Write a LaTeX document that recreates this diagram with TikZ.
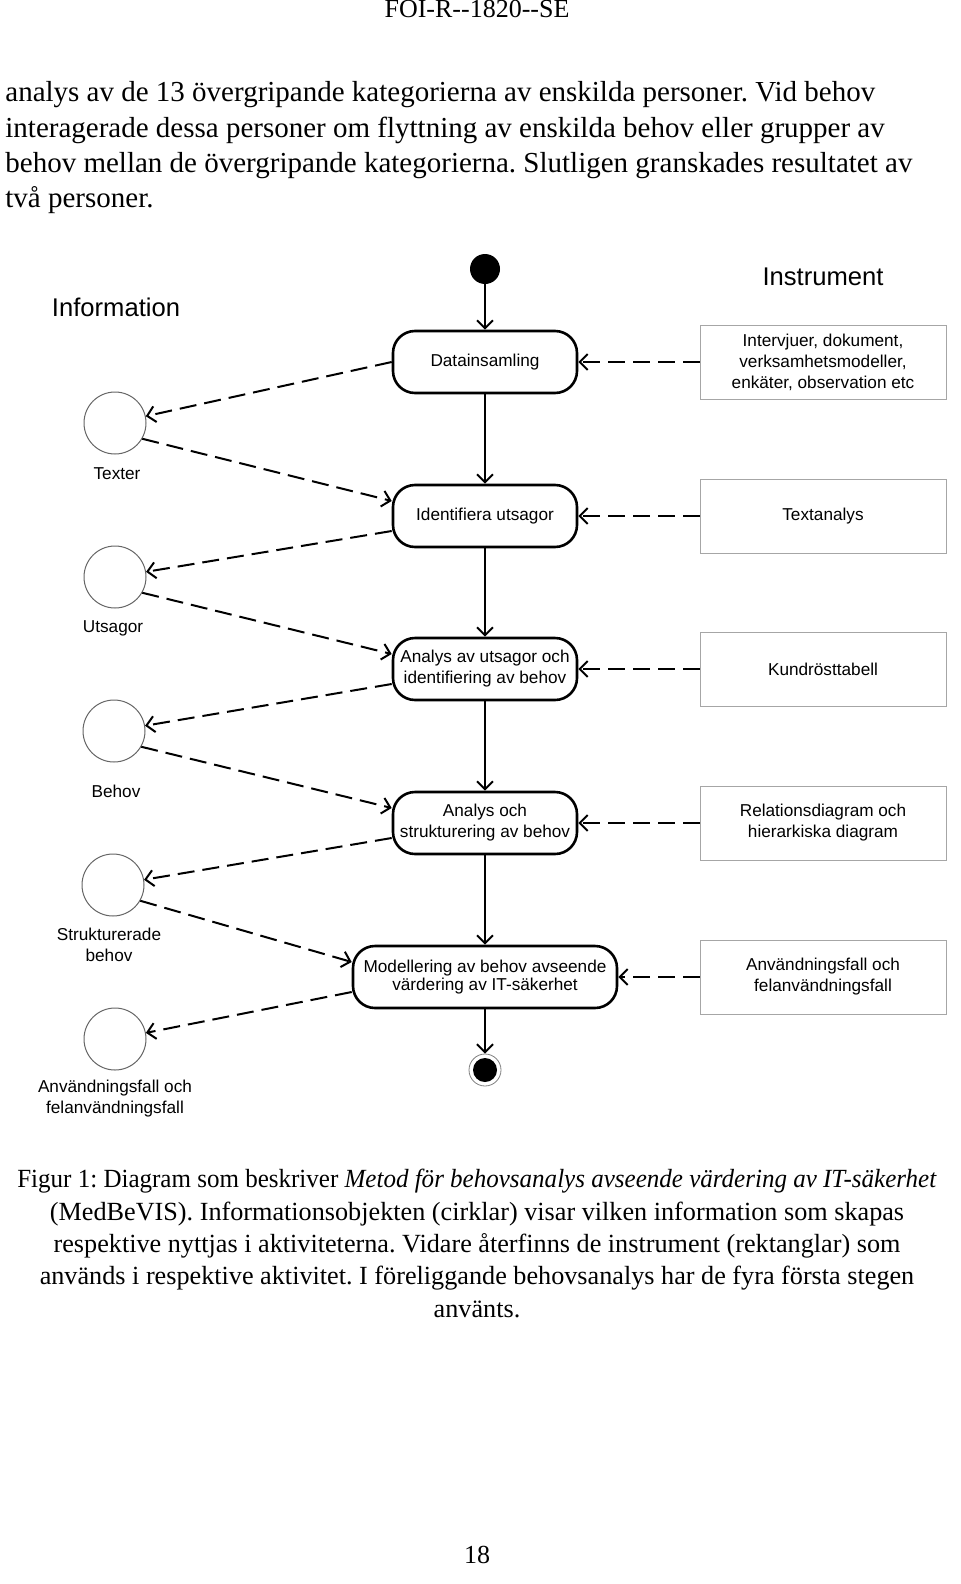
\documentclass[tikz,border=0pt]{standalone}
\usepackage{fontspec}
\setmainfont{Liberation Serif}
\newfontfamily\diafont{Liberation Sans}
\usetikzlibrary{arrows.meta,positioning}
\frenchspacing

\begin{document}
\begin{tikzpicture}[x=0.5pt,y=-0.5pt]

	\tikzstyle{myactivity}=[draw,line width=1.3pt,rounded corners=11pt,minimum width=92pt,minimum height=31pt,inner sep=1pt,align=center,font=\diafont\fontsize{8.6}{10.5}\selectfont]
	\tikzstyle{myinstr}=[draw=gray!70,line width=.5pt,minimum width=123pt,minimum height=37pt,inner sep=1pt,align=center,font=\diafont\fontsize{8.6}{10.5}\selectfont]
	\tikzstyle{myinfo}=[circle,draw=gray!80!black,line width=.5pt,minimum size=31pt,inner sep=0pt]
	\tikzstyle{mylabel}=[align=center,inner sep=0pt,font=\diafont\fontsize{8.6}{10.5}\selectfont]
	\tikzstyle{mytitle}=[inner sep=0pt,font=\diafont\fontsize{12.8}{15}\selectfont]
	\tikzstyle{mystart}=[circle,fill,inner sep=0pt,minimum size=15pt]
	\tikzstyle{myend}=[circle,draw=gray,line width=.4pt,inner sep=0pt,minimum size=16pt,path picture={\fill (path picture bounding box.center) circle (6pt);}]
	\tikzstyle{myflow}=[line width=1pt,-{Straight Barb[length=4pt,width=8pt]}]
	\tikzstyle{myuse}=[line width=1pt,dash pattern=on 8.5pt off 4pt,-{Straight Barb[length=4pt,width=8pt]}]
	\tikzstyle{mybody}=[anchor=base west,inner sep=0pt,font=\fontsize{14.5}{17}\selectfont]
	\tikzstyle{mycaption}=[anchor=base,inner sep=0pt,font=\fontsize{13.1}{16}\selectfont]

	\useasboundingbox (0,0) rectangle (960,1584);
	\fill[white] (0,0) rectangle (960,1584);

	% page text
	\node[anchor=base,inner sep=0pt,font=\fontsize{13}{15}\selectfont] (header) at (477,18) {FOI-R-{}-1820-{}-SE};
	\node[mybody] (body1) at (5,102) {analys av de 13 övergripande kategorierna av enskilda personer. Vid behov};
	\node[mybody] (body2) at (5,137) {interagerade dessa personer om flyttning av enskilda behov eller grupper av};
	\node[mybody] (body3) at (5,172) {behov mellan de övergripande kategorierna. Slutligen granskades resultatet av};
	\node[mybody] (body4) at (5,207) {två personer.};

	% columns
	\node[mytitle] (infotitle) at (116,307) {Information};
	\node[mytitle] (instrtitle) at (823,277) {Instrument};

	% activities
	\node[mystart] (start) at (485,269) {};
	\node[myactivity] (datains) at (485,362) {Datainsamling};
	\node[myactivity] (ident) at (485,516) {Identifiera utsagor};
	\node[myactivity] (anautsagor) at (485,669) {Analys av utsagor och\\identifiering av behov};
	\node[myactivity] (anastrukt) at (485,823) {Analys och\\strukturering av behov};
	\node[myactivity,minimum width=132pt] (modell) at (485,977) {Modellering av behov avseende\\[-1.5pt]värdering av IT-säkerhet};
	\node[myend] (end) at (485,1070) {};

	% instruments
	\node[myinstr] (instr1) at (823,362) {Intervjuer, dokument,\\verksamhetsmodeller,\\enkäter, observation etc};
	\node[myinstr] (instr2) at (823,516) {Textanalys};
	\node[myinstr] (instr3) at (823,669) {Kundrösttabell};
	\node[myinstr] (instr4) at (823,823) {Relationsdiagram och\\hierarkiska diagram};
	\node[myinstr] (instr5) at (823,977) {Användningsfall och\\felanvändningsfall};

	% information objects
	\node[myinfo] (info1) at (115,423) {};
	\node[myinfo] (info2) at (115,577) {};
	\node[myinfo] (info3) at (114,731) {};
	\node[myinfo] (info4) at (113,885) {};
	\node[myinfo] (info5) at (115,1039) {};
	\node[mylabel] (infolab1) at (117,474) {Texter};
	\node[mylabel] (infolab2) at (113,628) {Utsagor};
	\node[mylabel] (infolab3) at (116,791) {Behov};
	\node[mylabel] (infolab4) at (109,945) {Strukturerade\\behov};
	\node[mylabel] (infolab5) at (115,1099) {Användningsfall och\\felanvändningsfall};

	% control flow
	\foreach \a/\b in {start/datains,datains/ident,ident/anautsagor,anautsagor/anastrukt,anastrukt/modell,modell/end}
		{\draw[myflow] (\a) -- (\b);}
	% instruments used
	\foreach \i/\b in {1/datains,2/ident,3/anautsagor,4/anastrukt,5/modell}
		{\draw[myuse] (instr\i) -- (\b);}
	% information produced and used
	\draw[myuse] (datains.west) -- (info1);
	\foreach \a/\i in {ident/2,anautsagor/3,anastrukt/4,modell/5}
		{\draw[myuse] ([yshift=-7.5pt]\a.west) -- (info\i);}
	\foreach \i/\b in {1/ident,2/anautsagor,3/anastrukt,4/modell}
		{\draw[myuse] (info\i.-30) -- ([yshift=7.5pt]\b.west);}

	% caption
	\node[mycaption] (cap1) at (477,1187) {\scalebox{0.955}[1]{Figur 1: Diagram som beskriver \textit{Metod för behovsanalys avseende värdering av IT-säkerhet}}};
	\node[mycaption] (cap2) at (477,1220) {(MedBeVIS). Informationsobjekten (cirklar) visar vilken information som skapas};
	\node[mycaption] (cap3) at (477,1252) {respektive nyttjas i aktiviteterna. Vidare återfinns de instrument (rektanglar) som};
	\node[mycaption] (cap4) at (477,1284) {används i respektive aktivitet. I föreliggande behovsanalys har de fyra första stegen};
	\node[mycaption] (cap5) at (477,1317) {använts.};

	\node[anchor=base,inner sep=0pt,font=\fontsize{13}{15}\selectfont] (pagenum) at (477,1563) {18};
\end{tikzpicture}
\end{document}
